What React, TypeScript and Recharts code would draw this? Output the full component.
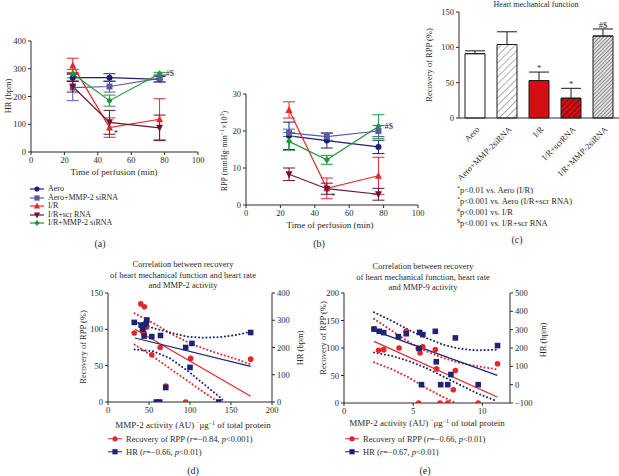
import React from 'react';
import {
  LineChart, Line, XAxis, YAxis, ErrorBar, ReferenceDot,
  BarChart, Bar, Cell, ComposedChart, Scatter,
} from 'recharts';

const FONT = '"Liberation Serif", "Times New Roman", serif';
const INK = '#2a2a2a';
const RED = '#e3262b';
const NAVY = '#1d2473';

// ---- (a)/(b) time course ----
const times = [25, 47, 77];
const groupNames = ['Aero', 'Aero+MMP-2 siRNA', 'I/R', 'I/R+scr RNA', 'I/R+MMP-2 siRNA'];
const groupKeys = ['aero', 'aeroSi', 'ir', 'irScr', 'irSi'];
const groupColors = ['#1c1f6e', '#5a5aa8', '#e8262b', '#6b1530', '#1f9a3a'];
const groupShapes = ['circle', 'square', 'triangle', 'triangleDown', 'diamond'];

const hrAero = [268, 268, 262];
const hrAeroSi = [232, 236, 265];
const hrIR = [312, 88, 118];
const hrIRScr = [236, 107, 87];
const hrIRSi = [282, 185, 282];
const hrAeroErr = [14, 14, 10];
const hrAeroSiErr = [47, 20, 12];
const hrIRErr = [26, 35, 74];
const hrIRScrErr = [20, 43, 46];
const hrIRSiErr = [15, 20, 5];

const rppAero = [18.7, 17.4, 15.7];
const rppAeroSi = [19.5, 18.5, 20];
const rppIR = [25.7, 4.5, 7.9];
const rppIRScr = [8.3, 4.4, 2.9];
const rppIRSi = [17.2, 12.2, 21.2];
const rppAeroErr = [3.7, 2, 1.8];
const rppAeroSiErr = [1, 1, 1.5];
const rppIRErr = [2.2, 2.8, 5];
const rppIRScrErr = [1.7, 1.5, 1.6];
const rppIRSiErr = [2.4, 1.2, 3.2];

// ---- (c) bars ----
const barCats = ['Aero', 'Aero+MMP-2siRNA', 'I/R', 'I/R+scrRNA', 'I/R+MMP-2siRNA'];
const barVals = [91, 104, 53, 28, 116];
const barErrs = [4, 18, 12, 14, 10];
const barMarks = ['', '', '*', '*', '#$'];
const barFills = ['#ffffff', 'url(#hatchLight)', '#d40f14', 'url(#hatchRed)', 'url(#hatchDense)'];

// ---- (d) MMP-2 correlation ----
const dRppX = [32, 40, 44.5, 41.7, 44, 47, 53.4, 63.6, 70.4, 94.7, 100.8, 174];
const dRppY = [95, 135, 131, 99, 95, 103, 65, 75, 22, 0, 60, 59];
const dHrX = [32, 40.5, 42.5, 44, 46.6, 47.4, 44, 53.4, 64, 70.4, 59, 63, 94.7, 100, 102.4, 135, 174];
const dHrY = [292, 282, 267, 283, 289, 301, 242, 240, 244, 53, 0, 0, 200, 127, 215, 0, 255];
const dFitX = [33, 174];
const dRppFit = [100, 8];
const dHrFit = [235, 131];
const dRppHiX = [32.4, 55.5, 75.7, 96, 116, 136.4, 156.7, 174];
const dRppHi = [122, 108.5, 94.6, 83, 73.8, 66, 59, 51.7];
const dRppLoX = [32.4, 55.5, 75.7, 96, 116, 132];
const dRppLo = [79, 62, 46, 30, 14, 2];
const dHrHiX = [32.4, 55.5, 75.7, 96, 116, 136.4, 156.7, 174];
const dHrHi = [295, 271, 255, 240, 236, 238, 246, 258];
const dHrLoX = [32.4, 55.5, 75.7, 96, 116, 136.4, 142];
const dHrLo = [193, 186, 160, 117, 68, 18, 0];

// ---- (e) MMP-9 correlation ----
const eRppX = [2.17, 2.5, 2.87, 3.98, 4.5, 5.5, 5.7, 6.6, 6.7, 5.4, 6.94, 7.5, 7.9, 8.05, 9.7, 11.1, 5.37];
const eRppY = [135, 96, 97, 100, 131, 91, 102, 97, 62, 0, 0, 0, 24, 59, 0, 71.5, 99];
const eHrX = [2.17, 2.55, 2.87, 3.93, 4.5, 5.47, 5.7, 6.6, 5.42, 5.6, 6.67, 6.99, 7.5, 7.73, 8.05, 9.7, 11.1];
const eHrY = [303, 291, 284, 262, 278, 285, 273, 291, 198, 0, 125, 0, 0, 55, 255, 0, 213];
const eFitX = [2.17, 11.08];
const eRppFit = [112, 11];
const eHrFit = [295, 51];
const eRppHiX = [2.17, 3.54, 4.75, 5.95, 7.16, 8.36, 9.57, 11.08];
const eRppHi = [153, 130, 110, 94, 82, 73, 67, 61];
const eRppLoX = [2.17, 3.54, 4.75, 5.95, 7.16, 8.1];
const eRppLo = [74, 60.6, 45.5, 27, 11, 0];
const eHrHiX = [2.17, 3.54, 4.75, 5.95, 7.16, 8.36, 9.57, 11.08];
const eHrHi = [395, 345, 296, 255, 218, 196, 187, 191];
const eHrLoX = [2.17, 3.54, 4.75, 5.95, 7.16, 8.36, 9.57, 11.08];
const eHrLo = [176, 155, 127, 91, 45, 0, -45, -91];

const zip = (xs: number[], ys: number[]) => xs.map((x, i) => ({ x, y: ys[i] }));

const tickStyle = { fontSize: 8.5, fill: INK, fontFamily: FONT };

function Txt({ x, y, children, size = 8.5, rot = 0, anchor = 'middle' }: any) {
  const tx = anchor === 'middle' ? '-50%' : anchor === 'end' ? '-100%' : '0';
  return (
    <div
      style={{
        position: 'absolute', left: x, top: y, whiteSpace: 'nowrap', fontSize: size, lineHeight: 1,
        transform: `translate(${tx},-50%) rotate(${rot}deg)`, fontFamily: FONT, color: INK,
      }}
    >
      {children}
    </div>
  );
}

const Sup = ({ children }: any) => (
  <span style={{ fontSize: 6, position: 'relative', top: -3, lineHeight: 0 }}>{children}</span>
);

function Marker({ cx, cy, shape, color, s = 3 }: any) {
  if (cx == null || cy == null) return null;
  if (shape === 'circle') return <circle cx={cx} cy={cy} r={s} fill={color} />;
  if (shape === 'square') return <rect x={cx - s} y={cy - s} width={2 * s} height={2 * s} fill={color} />;
  if (shape === 'triangle')
    return <polygon points={`${cx},${cy - s - 1} ${cx + s + 0.5},${cy + s} ${cx - s - 0.5},${cy + s}`} fill={color} />;
  if (shape === 'triangleDown')
    return <polygon points={`${cx},${cy + s + 1} ${cx + s + 0.5},${cy - s} ${cx - s - 0.5},${cy - s}`} fill={color} />;
  return <polygon points={`${cx},${cy - s - 0.5} ${cx + s},${cy} ${cx},${cy + s + 0.5} ${cx - s},${cy}`} fill={color} />;
}

function buildRows(series: number[][], errs: number[][]) {
  return times.map((t, i) => {
    const row: any = { t };
    groupKeys.forEach((k, g) => {
      row[k] = series[g][i];
      row[k + 'Err'] = errs[g][i];
    });
    return row;
  });
}

const hrRows = buildRows(
  [hrAero, hrAeroSi, hrIR, hrIRScr, hrIRSi],
  [hrAeroErr, hrAeroSiErr, hrIRErr, hrIRScrErr, hrIRSiErr],
);
const rppRows = buildRows(
  [rppAero, rppAeroSi, rppIR, rppIRScr, rppIRSi],
  [rppAeroErr, rppAeroSiErr, rppIRErr, rppIRScrErr, rppIRSiErr],
);

function TimeChart({ rows, width, height, margin, yWidth, yDomain, yTicks, marks }: any) {
  return (
    <LineChart width={width} height={height} data={rows} margin={margin}>
      <XAxis
        dataKey="t" type="number" domain={[0, 100]} ticks={[0, 20, 40, 60, 80, 100]}
        tick={tickStyle} tickSize={3} height={18} stroke={INK}
      />
      <YAxis domain={yDomain} ticks={yTicks} tick={tickStyle} tickSize={3} width={yWidth} stroke={INK} />
      {groupKeys.map((k, g) => (
        <Line
          key={k} dataKey={k} stroke={groupColors[g]} strokeWidth={1.2} isAnimationActive={false}
          dot={(p: any) => (
            <Marker key={`${k}${p.index}`} cx={p.cx} cy={p.cy} shape={groupShapes[g]} color={groupColors[g]} />
          )}
          activeDot={false}
        >
          <ErrorBar dataKey={k + 'Err'} width={6} stroke={groupColors[g]} strokeWidth={1} direction="y" />
        </Line>
      ))}
      {marks.map((m: any) => (
        <ReferenceDot
          key={m.text} x={m.x} y={m.y} r={0} fill="none" stroke="none"
          label={{ value: m.text, position: 'right', offset: 1, fontSize: 8.5, fill: INK, fontFamily: FONT }}
        />
      ))}
    </LineChart>
  );
}

function PatternDefs() {
  return (
    <svg width={0} height={0} style={{ position: 'absolute' }}>
      <defs>
        <pattern id="hatchLight" width="5" height="5" patternUnits="userSpaceOnUse" patternTransform="rotate(45)">
          <rect width="5" height="5" fill="#fff" />
          <line x1="0" y1="0" x2="0" y2="5" stroke="#8a8a8a" strokeWidth="1.4" />
        </pattern>
        <pattern id="hatchRed" width="4" height="4" patternUnits="userSpaceOnUse" patternTransform="rotate(45)">
          <rect width="4" height="4" fill="#d40f14" />
          <line x1="0" y1="0" x2="0" y2="4" stroke="#3a0a0a" strokeWidth="1.4" />
        </pattern>
        <pattern id="hatchDense" width="2.6" height="2.6" patternUnits="userSpaceOnUse" patternTransform="rotate(45)">
          <rect width="2.6" height="2.6" fill="#e0e0e0" />
          <line x1="0" y1="0" x2="0" y2="2.6" stroke="#555" strokeWidth="1.1" />
        </pattern>
      </defs>
    </svg>
  );
}

const barRows = barCats.map((c, i) => ({ c, v: barVals[i], err: [0, barErrs[i]], mark: barMarks[i] }));

function SlantTick({ x, y, payload }: any) {
  return (
    <text
      x={x + 5} y={y + 4} transform={`rotate(-45 ${x + 5} ${y + 4})`} textAnchor="end"
      fontSize={8.5} fill={INK} fontFamily={FONT}
    >
      {payload.value}
    </text>
  );
}

function dotShape(color: string, shape: string, s: number) {
  return (p: any) => <Marker cx={p.cx} cy={p.cy} shape={shape} color={color} s={s} />;
}

function CorrChart(props: any) {
  const { width, height, margin, xDomain, xTicks, lDomain, lTicks, rDomain, rTicks, lw, rw, d } = props;
  const dotted = { strokeWidth: 2, strokeDasharray: '0.1 3.6', strokeLinecap: 'round' as const };
  return (
    <ComposedChart width={width} height={height} margin={margin}>
      <XAxis
        dataKey="x" type="number" domain={xDomain} ticks={xTicks} tick={tickStyle}
        tickSize={3} height={19} stroke={INK} allowDataOverflow
      />
      <YAxis yAxisId="l" domain={lDomain} ticks={lTicks} tick={tickStyle} tickSize={3} width={lw} stroke={INK} allowDataOverflow />
      <YAxis
        yAxisId="r" orientation="right" domain={rDomain} ticks={rTicks} tick={tickStyle} tickSize={3}
        width={rw} stroke={INK} allowDataOverflow tickFormatter={(v: number) => (v < 0 ? `\u2212${-v}` : `${v}`)}
      />
      <Line data={d.rppHi} dataKey="y" yAxisId="l" stroke={RED} dot={false} activeDot={false} isAnimationActive={false} {...dotted} />
      <Line data={d.rppLo} dataKey="y" yAxisId="l" stroke={RED} dot={false} activeDot={false} isAnimationActive={false} {...dotted} />
      <Line data={d.hrHi} dataKey="y" yAxisId="r" stroke={NAVY} dot={false} activeDot={false} isAnimationActive={false} {...dotted} />
      <Line data={d.hrLo} dataKey="y" yAxisId="r" stroke={NAVY} dot={false} activeDot={false} isAnimationActive={false} {...dotted} />
      <Line data={d.rppFit} dataKey="y" yAxisId="l" stroke={RED} strokeWidth={1.2} dot={false} activeDot={false} isAnimationActive={false} />
      <Line data={d.hrFit} dataKey="y" yAxisId="r" stroke={NAVY} strokeWidth={1.2} dot={false} activeDot={false} isAnimationActive={false} />
      <Scatter data={d.rpp} dataKey="y" yAxisId="l" fill={RED} shape={dotShape(RED, 'circle', 2.8)} isAnimationActive={false} />
      <Scatter data={d.hr} dataKey="y" yAxisId="r" fill={NAVY} shape={dotShape(NAVY, 'square', 2.8)} isAnimationActive={false} />
    </ComposedChart>
  );
}

const dSets = {
  rpp: zip(dRppX, dRppY), hr: zip(dHrX, dHrY),
  rppFit: zip(dFitX, dRppFit), hrFit: zip(dFitX, dHrFit),
  rppHi: zip(dRppHiX, dRppHi), rppLo: zip(dRppLoX, dRppLo),
  hrHi: zip(dHrHiX, dHrHi), hrLo: zip(dHrLoX, dHrLo),
};
const eSets = {
  rpp: zip(eRppX, eRppY), hr: zip(eHrX, eHrY),
  rppFit: zip(eFitX, eRppFit), hrFit: zip(eFitX, eHrFit),
  rppHi: zip(eRppHiX, eRppHi), rppLo: zip(eRppLoX, eRppLo),
  hrHi: zip(eHrHiX, eHrHi), hrLo: zip(eHrLoX, eHrLo),
};

function LegendKey({ color, shape, w = 14 }: any) {
  return (
    <svg width={w} height={8} style={{ display: 'block' }}>
      <line x1={0} y1={4} x2={w} y2={4} stroke={color} strokeWidth={1.2} />
      <Marker cx={w / 2} cy={4} shape={shape} color={color} s={2.6} />
    </svg>
  );
}

function LegendRow({ x, y, color, shape, children, size = 8.5 }: any) {
  return (
    <div style={{ position: 'absolute', left: x, top: y, transform: 'translateY(-50%)', display: 'flex', alignItems: 'center', gap: 4, whiteSpace: 'nowrap', fontSize: size, fontFamily: FONT, color: INK, lineHeight: 1 }}>
      <LegendKey color={color} shape={shape} />
      <span>{children}</span>
    </div>
  );
}

export default function App() {
  return (
    <div style={{ position: 'absolute', left: 0, top: 0, width: 619, height: 476, background: '#fff', overflow: 'hidden', fontFamily: FONT }}>
      <style>{'.recharts-surface{overflow:visible}'}</style>
      <PatternDefs />

      {/* (a) */}
      <div style={{ position: 'absolute', left: 0, top: 0 }}>
        <TimeChart
          rows={hrRows} width={210} height={170} margin={{ top: 41, right: 12, left: 0, bottom: 0 }} yWidth={31}
          yDomain={[0, 400]} yTicks={[0, 100, 200, 300, 400]}
          marks={[{ x: 80, y: 284, text: '#$' }, { x: 49, y: 67, text: '*' }]}
        />
      </div>
      <Txt x={8} y={96} rot={-90}>HR (bpm)</Txt>
      <Txt x={114} y={172} size={9}>Time of perfusion (min)</Txt>
      {groupNames.map((n, g) => (
        <LegendRow key={n} x={30} y={189 + g * 8.6} color={groupColors[g]} shape={groupShapes[g]} size={8}>{n}</LegendRow>
      ))}
      <Txt x={100} y={244} size={10}>(a)</Txt>

      {/* (b) */}
      <div style={{ position: 'absolute', left: 200, top: 60 }}>
        <TimeChart
          rows={rppRows} width={228} height={163} margin={{ top: 34, right: 10, left: 0, bottom: 0 }} yWidth={46}
          yDomain={[0, 30]} yTicks={[0, 10, 20, 30]}
          marks={[{ x: 80, y: 21.4, text: '#$' }, { x: 49, y: 2.4, text: '*' }]}
        />
      </div>
      <Txt x={225} y={151} rot={-90} size={8}>RPP (mmHg·min<Sup>−1</Sup>×10<Sup>3</Sup>)</Txt>
      <Txt x={330} y={225} size={9}>Time of perfusion (min)</Txt>
      <Txt x={319} y={244} size={10}>(b)</Txt>

      {/* (c) */}
      <Txt x={536} y={5} size={8}>Heart mechanical function</Txt>
      <div style={{ position: 'absolute', left: 390, top: 0 }}>
        <BarChart width={229} height={175} data={barRows} margin={{ top: 12, right: 0, left: 0, bottom: 0 }}>
          <XAxis dataKey="c" tick={<SlantTick />} tickLine={false} height={57} stroke={INK} interval={0} />
          <YAxis domain={[0, 150]} ticks={[0, 50, 100, 150]} tick={tickStyle} tickSize={3} width={69} stroke={INK} />
          <Bar dataKey="v" barSize={20} stroke="#1a1a1a" strokeWidth={1} isAnimationActive={false}>
            {barRows.map((r, i) => <Cell key={r.c} fill={barFills[i]} />)}
            <ErrorBar dataKey="err" width={10} stroke="#1a1a1a" strokeWidth={1} direction="y" />
          </Bar>
          {barRows.map((r, i) => (r.mark ? (
            <ReferenceDot
              key={r.c} x={r.c} y={barVals[i] + barErrs[i]} r={0} fill="none" stroke="none"
              label={{ value: r.mark, position: 'top', offset: 1, fontSize: 8.5, fill: INK, fontFamily: FONT }}
            />
          ) : null))}
        </BarChart>
      </div>
      <Txt x={429} y={65} rot={-90}>Recovery of RPP (%)</Txt>
      <Txt x={457} y={190} anchor="start" size={8.5}><Sup>*</Sup>p&lt;0.01 vs. Aero (I/R)</Txt>
      <Txt x={457} y={201} anchor="start" size={8.5}><Sup>*</Sup>p&lt;0.001 vs. Aero (I/R+scr RNA)</Txt>
      <Txt x={457} y={212} anchor="start" size={8.5}><Sup>#</Sup>p&lt;0.001 vs. I/R</Txt>
      <Txt x={457} y={223} anchor="start" size={8.5}><Sup>$</Sup>p&lt;0.001 vs. I/R+scr RNA</Txt>
      <Txt x={517} y={240} size={10}>(c)</Txt>

      {/* (d) */}
      <Txt x={183} y={264} size={8.5}>Correlation between recovery</Txt>
      <Txt x={183} y={274.5} size={8.5}>of heart mechanical function and heart rate</Txt>
      <Txt x={183} y={285} size={8.5}>and MMP-2 activity</Txt>
      <div style={{ position: 'absolute', left: 60, top: 286 }}>
        <CorrChart
          width={240} height={135} margin={{ top: 7, right: 0, left: 0, bottom: 0 }} lw={48} rw={28}
          xDomain={[0, 200]} xTicks={[0, 50, 100, 150, 200]} lDomain={[0, 150]} lTicks={[0, 50, 100, 150]}
          rDomain={[0, 400]} rTicks={[0, 100, 200, 300, 400]} d={dSets}
        />
      </div>
      <Txt x={83} y={347} rot={-90}>Recovery of RPP (%)</Txt>
      <Txt x={300} y={348} rot={-90}>HR (bpm)</Txt>
      <Txt x={193} y={425} size={9}>MMP-2 activity (AU) ˙μg<Sup>−1</Sup> of total protein</Txt>
      <LegendRow x={108} y={439} color={RED} shape="circle">Recovery of RPP (<i>r</i>=−0.84, <i>p</i>&lt;0.001)</LegendRow>
      <LegendRow x={108} y={452} color={NAVY} shape="square">HR (<i>r</i>=−0.66, <i>p</i>&lt;0.01)</LegendRow>
      <Txt x={193} y={471} size={10}>(d)</Txt>

      {/* (e) */}
      <Txt x={423} y={266} size={8.5}>Correlation between recovery</Txt>
      <Txt x={423} y={276.5} size={8.5}>of heart mechanical function, heart rate</Txt>
      <Txt x={423} y={287} size={8.5}>and MMP-9 activity</Txt>
      <div style={{ position: 'absolute', left: 290, top: 286 }}>
        <CorrChart
          width={254} height={136} margin={{ top: 7, right: 0, left: 0, bottom: 0 }} lw={54} rw={34}
          xDomain={[0, 12]} xTicks={[0, 5, 10]} lDomain={[0, 200]} lTicks={[0, 50, 100, 150, 200]}
          rDomain={[-100, 500]} rTicks={[-100, 0, 100, 200, 300, 400, 500]} d={eSets}
        />
      </div>
      <Txt x={323} y={338} rot={-90}>Recovery of RPP (%)</Txt>
      <Txt x={543} y={340} rot={-90}>HR (bpm)</Txt>
      <Txt x={427} y={423} size={9}>MMP-2 activity (AU) ˙μg<Sup>−1</Sup> of total protein</Txt>
      <LegendRow x={345} y={439} color={RED} shape="circle">Recovery of RPP (<i>r</i>=−0.66, <i>p</i>&lt;0.01)</LegendRow>
      <LegendRow x={345} y={452} color={NAVY} shape="square">HR (<i>r</i>=−0.67, <i>p</i>&lt;0.01)</LegendRow>
      <Txt x={425} y={471} size={10}>(e)</Txt>
    </div>
  );
}
